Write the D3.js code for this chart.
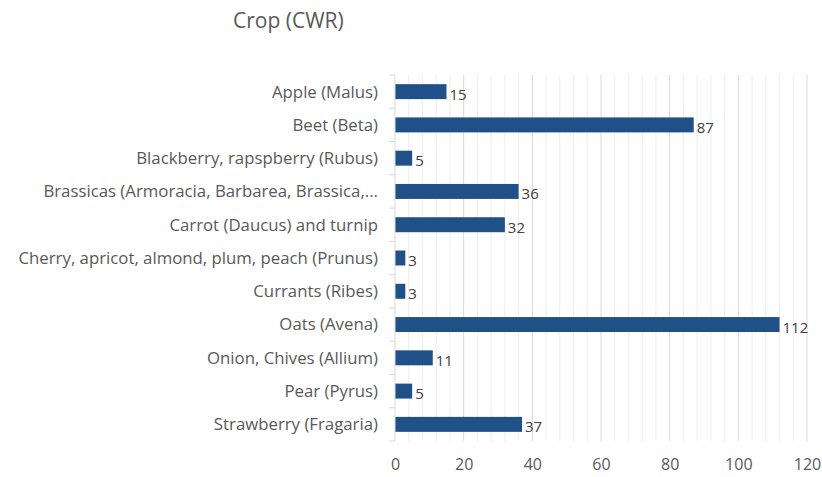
<!DOCTYPE html>
<html>
<head>
<meta charset="utf-8">
<script src="https://cdn.jsdelivr.net/npm/d3@7"></script>
<style>
  body { margin: 0; background: #fff; }
  text { font-family: "Open Sans", "Noto Sans", sans-serif; }
</style>
</head>
<body>
<div id="chart"></div>
<script>
// chart data
const categories = [
    "Apple (Malus)",
    "Beet (Beta)",
    "Blackberry, rapspberry (Rubus)",
    "Brassicas (Armoracia, Barbarea, Brassica,...",
    "Carrot (Daucus) and turnip",
    "Cherry, apricot, almond, plum, peach (Prunus)",
    "Currants (Ribes)",
    "Oats (Avena)",
    "Onion, Chives (Allium)",
    "Pear (Pyrus)",
    "Strawberry (Fragaria)"
];
const values = [15, 87, 5, 36, 32, 3, 3, 112, 11, 5, 37];
const xTicks = [0, 20, 40, 60, 80, 100, 120];

const width = 822, height = 477;
const margin = { top: 75, right: 15, bottom: 36, left: 395 };
const plotW = width - margin.left - margin.right;
const plotH = height - margin.top - margin.bottom;

const svg = d3.select("#chart")
    .append("svg")
    .attr("width", width)
    .attr("height", height);

// title
svg.append("text")
    .attr("x", 233)
    .attr("y", 28)
    .attr("font-size", 21)
    .attr("fill", "#595959")
    .text("Crop (CWR)");

const g = svg.append("g")
    .attr("transform", `translate(${margin.left},${margin.top})`);

const x = d3.scaleLinear()
    .domain([0, 120])
    .range([0, plotW]);

const y = d3.scaleBand()
    .domain(categories)
    .range([0, plotH])
    .paddingInner(0.55)
    .paddingOuter(0.275);

// minor gridlines every 4
g.append("g")
    .selectAll("line")
    .data(d3.range(4, 121, 4).filter(v => v % 20 !== 0))
    .enter()
    .append("line")
    .attr("x1", d => x(d)).attr("x2", d => x(d))
    .attr("y1", 0).attr("y2", plotH)
    .attr("stroke", "#eeeeee")
    .attr("stroke-width", 1);

// major gridlines
g.append("g")
    .selectAll("line")
    .data(xTicks.slice(1))
    .enter()
    .append("line")
    .attr("x1", d => x(d)).attr("x2", d => x(d))
    .attr("y1", 0).attr("y2", plotH)
    .attr("stroke", "#d9d9d9")
    .attr("stroke-width", 1);

// bars
g.selectAll(".bar")
    .data(values)
    .enter()
    .append("rect")
    .attr("class", "bar")
    .attr("x", 0)
    .attr("y", (d, i) => y(categories[i]))
    .attr("width", d => x(d))
    .attr("height", y.bandwidth())
    .attr("fill", "#1F5188");

// data labels
g.selectAll(".lbl")
    .data(values)
    .enter()
    .append("text")
    .attr("class", "lbl")
    .attr("x", d => x(d) + 3)
    .attr("y", (d, i) => y(categories[i]) + y.bandwidth() / 2 + 8)
    .attr("font-size", 15)
    .attr("fill", "#404040")
    .text(d => d);

// y axis line with ticks at band boundaries
const step = y.step();
g.append("line")
    .attr("x1", 0).attr("x2", 0)
    .attr("y1", 0).attr("y2", plotH)
    .attr("stroke", "#d9d9d9");
g.append("g")
    .selectAll("line")
    .data(d3.range(categories.length + 1))
    .enter()
    .append("line")
    .attr("x1", -6).attr("x2", 0)
    .attr("y1", i => i * step).attr("y2", i => i * step)
    .attr("stroke", "#d9d9d9");

// category labels
g.selectAll(".cat")
    .data(categories)
    .enter()
    .append("text")
    .attr("class", "cat")
    .attr("x", -17)
    .attr("y", d => y(d) + y.bandwidth() / 2)
    .attr("dy", "0.35em")
    .attr("text-anchor", "end")
    .attr("font-size", 16.8)
    .attr("fill", "#595959")
    .text(d => d);

// x axis labels
const xAxis = g.append("g")
    .attr("transform", `translate(0,${plotH})`)
    .call(d3.axisBottom(x).tickValues(xTicks).tickSize(0).tickPadding(18));
xAxis.select(".domain").remove();
xAxis.selectAll("text")
    .attr("font-size", 16)
    .attr("fill", "#595959")
    .style("font-family", "'Open Sans', 'Noto Sans', sans-serif");
</script>
</body>
</html>
